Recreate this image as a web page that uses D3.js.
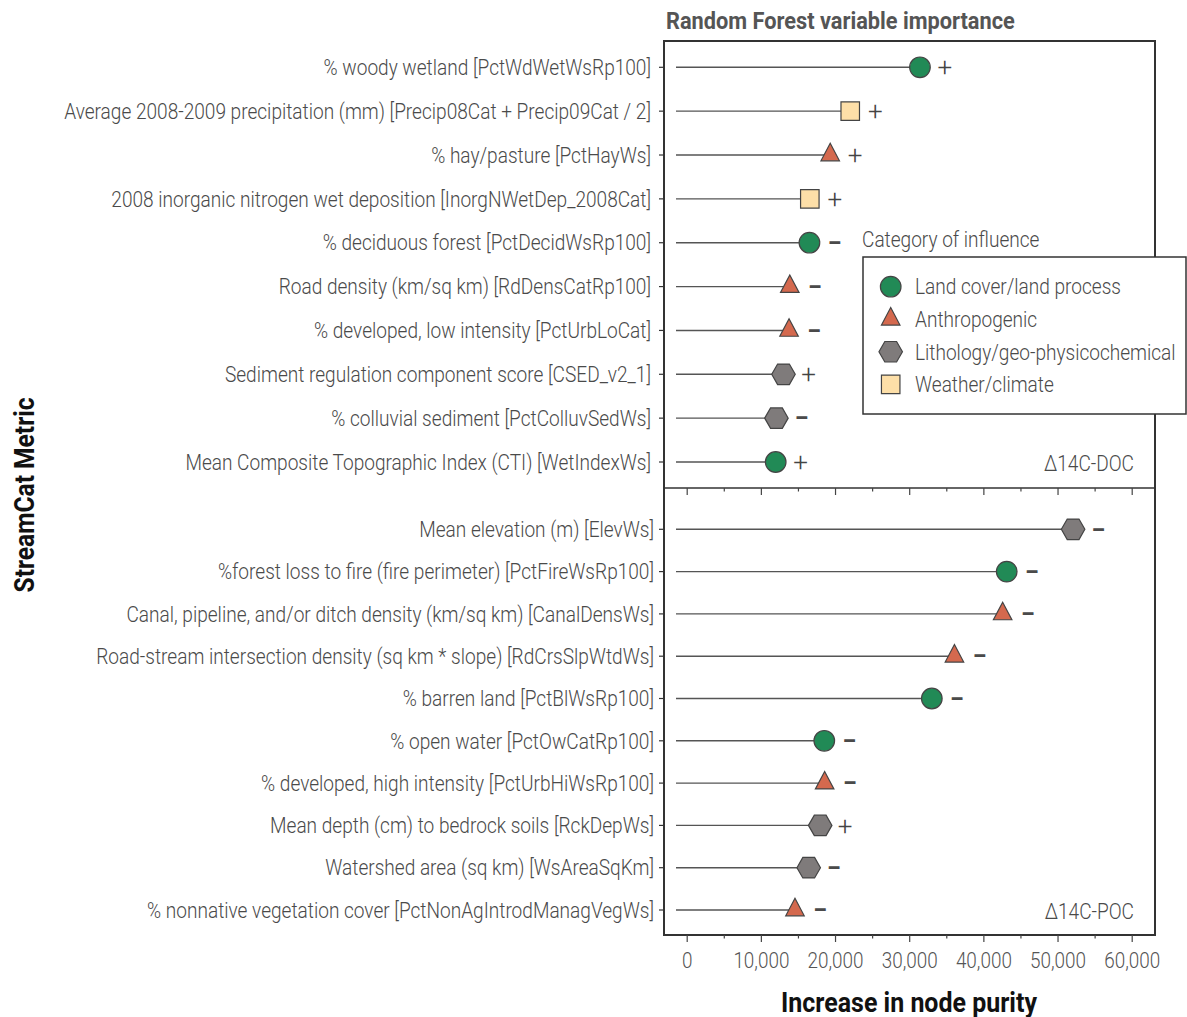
<!DOCTYPE html>
<html>
<head>
<meta charset="utf-8">
<script src="https://cdn.jsdelivr.net/npm/d3@7"></script>
<style>
  html, body { margin: 0; padding: 0; background: #fff; }
  svg { display: block; }
  text { font-family: Roboto, "Liberation Sans", sans-serif; }
</style>
</head>
<body>
<svg id="chart" width="1187" height="1017"></svg>
<script>
// ---- Data: Random Forest variable importance for two responses ----
const docMetrics = [
  "% woody wetland [PctWdWetWsRp100]",
  "Average 2008-2009 precipitation (mm) [Precip08Cat + Precip09Cat / 2]",
  "% hay/pasture [PctHayWs]",
  "2008 inorganic nitrogen wet deposition [InorgNWetDep_2008Cat]",
  "% deciduous forest [PctDecidWsRp100]",
  "Road density (km/sq km) [RdDensCatRp100]",
  "% developed, low intensity [PctUrbLoCat]",
  "Sediment regulation component score [CSED_v2_1]",
  "% colluvial sediment [PctColluvSedWs]",
  "Mean Composite Topographic Index (CTI) [WetIndexWs]"
];
const docValues = [31450, 22050, 19350, 16600, 16550, 13900, 13800, 13050, 12100, 12000];
const docCategories = ["land", "weather", "anthro", "weather", "land", "anthro", "anthro", "litho", "litho", "land"];
const docSigns = ["+", "+", "+", "+", "-", "-", "-", "+", "-", "+"];

const pocMetrics = [
  "Mean elevation (m) [ElevWs]",
  "%forest loss to fire (fire perimeter) [PctFireWsRp100]",
  "Canal, pipeline, and/or ditch density (km/sq km) [CanalDensWs]",
  "Road-stream intersection density (sq km * slope) [RdCrsSlpWtdWs]",
  "% barren land [PctBlWsRp100]",
  "% open water [PctOwCatRp100]",
  "% developed, high intensity [PctUrbHiWsRp100]",
  "Mean depth (cm) to bedrock soils [RckDepWs]",
  "Watershed area (sq km) [WsAreaSqKm]",
  "% nonnative vegetation cover [PctNonAgIntrodManagVegWs]"
];
const pocValues = [52100, 43150, 42600, 36100, 33050, 18550, 18600, 18000, 16450, 14600];
const pocCategories = ["litho", "land", "anthro", "anthro", "land", "land", "anthro", "litho", "litho", "anthro"];
const pocSigns = ["-", "-", "-", "-", "-", "-", "-", "+", "-", "-"];

const categoryKeys = ["land", "anthro", "litho", "weather"];
const categoryLabels = ["Land cover/land process", "Anthropogenic", "Lithology/geo-physicochemical", "Weather/climate"];
const categoryColors = ["#218a56", "#d4694e", "#7f7b7b", "#fddfa8"];

const xTickValues = [0, 10000, 20000, 30000, 40000, 50000, 60000];
const xMinorTickValues = [5000, 15000, 25000, 35000, 45000, 55000];

// ---- Layout ----
const svg = d3.select("#chart");
const frame = { left: 664, right: 1155, top: 41, mid: 488, bottom: 935 };
const ink = "#4a4a4a";
const lightWeight = 300;

// Condensed type: measure a sample at full width and squeeze horizontally.
function condenseFactor(sample, size, weight, width) {
  const t = svg.append("text").attr("font-size", size).attr("font-weight", weight).text(sample);
  const w = t.node().getComputedTextLength();
  t.remove();
  return width / w;
}
const labelSize = 21.5;
const sxLabel = condenseFactor(docMetrics[1], labelSize, lightWeight, 587);
const sxTick = condenseFactor("10,000", 22, lightWeight, 56);
const sxTitle = condenseFactor("Random Forest variable importance", 24, "bold", 349);
const sxAxisTitle = condenseFactor("Increase in node purity", 28, "bold", 256);
const sxYTitle = condenseFactor("StreamCat Metric", 28, "bold", 195);

function ctext(parent, x, y, str, opts = {}) {
  const sx = opts.sx ?? sxLabel;
  return parent.append("text")
    .attr("transform", `translate(${x},${y}) scale(${sx},1)`)
    .attr("dy", opts.dy ?? "0.36em")
    .attr("text-anchor", opts.anchor ?? "start")
    .attr("font-size", opts.size ?? labelSize)
    .attr("font-weight", opts.weight ?? lightWeight)
    .attr("fill", opts.fill ?? ink)
    .text(str);
}

const x = d3.scaleLinear().domain([0, 60000]).range([686.7, 1131.7]);
const lineStart = frame.left + 12;

const color = d3.scaleOrdinal().domain(categoryKeys).range(categoryColors);

// marker shapes, centred on the row
function markerPath(cat) {
  if (cat === "land") {
    const r = 10.3, p = d3.path();
    p.moveTo(r, 0); p.arc(0, 0, r, 0, 2 * Math.PI); p.closePath();
    return p.toString();
  }
  if (cat === "anthro") {
    const w = 18.5, h = 17.5;
    return `M0,${-2 * h / 3}L${w / 2},${h / 3}L${-w / 2},${h / 3}Z`;
  }
  if (cat === "litho") {
    const w = 23.5, h = 20.5;
    return `M${-w / 2},0L${-w / 4},${-h / 2}L${w / 4},${-h / 2}L${w / 2},0L${w / 4},${h / 2}L${-w / 4},${h / 2}Z`;
  }
  const s = 18.5;
  return `M${-s / 2},${-s / 2}H${s / 2}V${s / 2}H${-s / 2}Z`;
}

function drawPanel(metrics, values, cats, signs, yRange, labelX, tag) {
  const y = d3.scalePoint().domain(metrics).range(yRange);
  const g = svg.append("g");

  // metric names on the left
  metrics.forEach(m => ctext(g, labelX, y(m), m, { anchor: "end" }));

  // small ticks on the left frame edge
  g.selectAll("line.ytick").data(metrics).join("line")
    .attr("class", "ytick")
    .attr("x1", frame.left - 5).attr("x2", frame.left)
    .attr("y1", d => y(d)).attr("y2", d => y(d))
    .attr("stroke", "#333").attr("stroke-width", 1.2);

  const rows = metrics.map((m, i) => ({ m, v: values[i], c: cats[i], s: signs[i] }));

  g.selectAll("line.stem").data(rows).join("line")
    .attr("class", "stem")
    .attr("x1", lineStart).attr("x2", d => x(d.v))
    .attr("y1", d => y(d.m)).attr("y2", d => y(d.m))
    .attr("stroke", "#555").attr("stroke-width", 1.4);

  g.selectAll("path.marker").data(rows).join("path")
    .attr("class", "marker")
    .attr("transform", d => `translate(${x(d.v)},${y(d.m)})`)
    .attr("d", d => markerPath(d.c))
    .attr("fill", d => color(d.c))
    .attr("stroke", "#444").attr("stroke-width", 1.2);

  // direction of influence: thin plus, heavy dash
  rows.forEach(d => {
    if (d.s === "+") {
      ctext(g, x(d.v) + 25, y(d.m), "+", { anchor: "middle", size: 26, weight: 300, fill: "#444", sx: 1, dy: "0.35em" });
    } else {
      ctext(g, x(d.v) + 25, y(d.m), "\u2013", { anchor: "middle", size: 22, weight: "900", fill: "#4a4a4a", sx: 0.95, dy: "0.33em" });
    }
  });

  ctext(svg, 1134, yRange[1] + 1, tag, { anchor: "end" });
}

drawPanel(docMetrics, docValues, docCategories, docSigns, [67.3, 462], 651, "\u039414C-DOC");
drawPanel(pocMetrics, pocValues, pocCategories, pocSigns, [529.3, 910], 654, "\u039414C-POC");

// frame and panel divider
svg.append("rect")
  .attr("x", frame.left).attr("y", frame.top)
  .attr("width", frame.right - frame.left).attr("height", frame.bottom - frame.top)
  .attr("fill", "none").attr("stroke", "#333").attr("stroke-width", 2);
svg.append("line")
  .attr("x1", frame.left).attr("x2", frame.right)
  .attr("y1", frame.mid).attr("y2", frame.mid)
  .attr("stroke", "#333").attr("stroke-width", 1.6);

// x axes: labelled one under the frame, tick-only one under the divider
function tickAxis(yPos, labelled) {
  const major = svg.append("g").attr("transform", `translate(0,${yPos})`)
    .call(d3.axisBottom(x).tickValues(xTickValues).tickSize(7).tickPadding(10)
      .tickFormat(labelled ? d3.format(",") : () => ""));
  major.select(".domain").remove();
  major.selectAll(".tick line").attr("stroke", "#444").attr("stroke-width", 1.2);
  major.selectAll(".tick text")
    .attr("font-size", 22).attr("fill", "#555").attr("font-weight", lightWeight)
    .attr("transform", `scale(${sxTick},1)`)
    .style("font-family", "Roboto, 'Liberation Sans', sans-serif");
  const minor = svg.append("g").attr("transform", `translate(0,${yPos})`)
    .call(d3.axisBottom(x).tickValues(xMinorTickValues).tickSize(3.5).tickFormat(() => ""));
  minor.select(".domain").remove();
  minor.selectAll(".tick line").attr("stroke", "#444").attr("stroke-width", 1.2);
}
tickAxis(frame.mid, false);
tickAxis(frame.bottom, true);

// titles
ctext(svg, 666, 20, "Random Forest variable importance",
  { sx: sxTitle, size: 24, weight: "bold", fill: "#555" });
ctext(svg, 909, 1002, "Increase in node purity",
  { sx: sxAxisTitle, size: 28, weight: "bold", fill: "#111", anchor: "middle" });
svg.append("text")
  .attr("transform", `translate(24,495) rotate(-90) scale(${sxYTitle},1)`)
  .attr("dy", "0.36em")
  .attr("text-anchor", "middle")
  .attr("font-size", 28).attr("font-weight", "bold").attr("fill", "#111")
  .text("StreamCat Metric");

// legend
const legend = svg.append("g");
ctext(legend, 862, 239, "Category of influence");
legend.append("rect")
  .attr("x", 863).attr("y", 257).attr("width", 323).attr("height", 157)
  .attr("fill", "#fff").attr("stroke", "#333").attr("stroke-width", 1.5);
const legendY = d3.scalePoint().domain(categoryKeys).range([286.7, 384.3]);
categoryKeys.forEach((k, i) => {
  legend.append("path")
    .attr("transform", `translate(890.7,${legendY(k)})`)
    .attr("d", markerPath(k))
    .attr("fill", color(k))
    .attr("stroke", "#444").attr("stroke-width", 1.2);
  ctext(legend, 915, legendY(k), categoryLabels[i]);
});
</script>
</body>
</html>
